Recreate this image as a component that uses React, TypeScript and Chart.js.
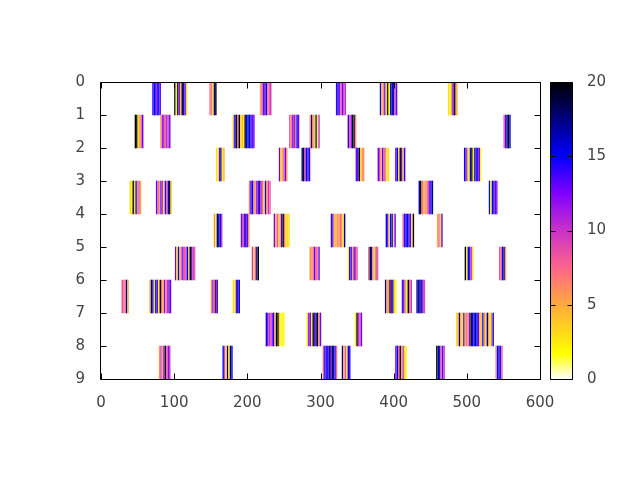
import React, { useEffect, useRef } from "react";
import { Chart, registerables } from "chart.js";

Chart.register(...registerables);

type Burst = [number, number[]];

const cellWidth = 2;
const row0: Burst[] = [
  [70, [14, 15, 14, 13, 15, 13]],
  [100, [20, 2, 18, 12, 4, 20, 15, 13, 3]],
  [148, [7, 7, 3, 17, 20]],
  [217, [5, 8, 13, 13, 15, 7, 8, 10]],
  [321, [14, 15, 12, 8, 13, 10, 10]],
  [381, [15, 5, 6, 13, 3, 20, 2, 15, 18, 15, 9, 13]],
  [474, [3, 2, 5, 12, 20, 10, 3]],
];
const row1: Burst[] = [
  [46, [20, 20, 3, 5, 8, 13]],
  [81, [6, 11, 12, 7, 12, 8, 13]],
  [180, [5, 15, 20, 8, 20, 3, 5, 2, 20, 15, 17, 15, 14, 13, 13]],
  [257, [8, 7, 11, 13, 7, 15, 13]],
  [285, [6, 17, 6, 3, 17, 2, 10]],
  [337, [14, 8, 12, 20, 18, 6]],
  [550, [8, 13, 17, 20, 15]],
];
const row2: Burst[] = [
  [157, [3, 2, 13, 17, 2, 5]],
  [243, [13, 4, 5, 8, 13, 6]],
  [274, [17, 20, 10, 15, 14, 14]],
  [348, [13, 14, 20, 3, 6, 6]],
  [378, [13, 10, 5, 13, 9, 6, 3, 3]],
  [402, [13, 15, 3, 20, 13, 5, 14]],
  [496, [15, 13, 5, 3, 15, 20, 2, 17, 13, 15, 13, 2]],
];
const row3: Burst[] = [
  [39, [3, 2, 20, 3, 15, 6, 9, 5]],
  [75, [13, 9, 5, 13, 10, 3, 14, 8, 15, 20, 3]],
  [202, [7, 14, 15, 8, 5, 12, 13, 17, 10, 7, 4, 15, 6, 10, 8]],
  [434, [17, 20, 8, 4, 6, 5, 10, 12, 15, 17]],
  [530, [15, 2, 15, 14, 13, 12]],
];
const row4: Burst[] = [
  [154, [6, 2, 17, 17, 15, 10]],
  [191, [13, 10, 13, 17, 13, 6]],
  [236, [13, 5, 8, 4, 6, 14, 20, 7, 3, 3, 3]],
  [314, [14, 13, 4, 5, 6, 5, 8, 6, 3, 17]],
  [389, [15, 13, 3, 15, 14, 3, 13]],
  [412, [8, 14, 15, 15, 14, 13, 3, 20]],
  [459, [5, 8, 3, 13]],
];
const row5: Burst[] = [
  [101, [13, 3, 15, 5, 8, 13, 8, 9, 15, 4, 20, 13, 10, 8]],
  [206, [10, 3, 8, 17, 20]],
  [285, [6, 5, 8, 13, 9, 6, 13]],
  [337, [2, 15, 13, 5, 13, 10, 8]],
  [365, [8, 20, 15, 5, 3, 10, 8]],
  [497, [20, 2, 15, 14, 10, 3]],
  [544, [9, 8, 15, 17, 5]],
];
const row6: Burst[] = [
  [28, [9, 6, 8, 17, 5]],
  [66, [5, 18, 15, 3, 17, 13, 2, 20, 8, 5, 12, 7, 10, 13, 13]],
  [150, [6, 12, 8, 20, 13]],
  [180, [3, 2, 13, 17, 15]],
  [388, [17, 6, 5, 20, 13, 17, 3, 2]],
  [411, [13, 14, 5, 3, 20, 8, 10]],
  [431, [17, 15, 20, 14, 13, 9]],
];
const row7: Burst[] = [
  [225, [15, 13, 10, 8, 12, 15, 5, 20, 20, 3, 2, 2, 2]],
  [281, [3, 12, 13, 2, 20, 13, 17, 20, 6, 13]],
  [347, [2, 20, 10, 9, 13]],
  [485, [3, 5, 17, 5, 3, 14, 5, 8, 6, 13, 20, 15, 15, 17, 15, 13, 5, 4, 15, 6, 3, 17, 6, 2, 7, 15]],
];
const row8: Burst[] = [
  [79, [6, 10, 5, 12, 20, 8, 12, 10]],
  [166, [15, 9, 3, 17, 3, 18, 15]],
  [303, [8, 15, 13, 15, 17, 13, 20, 15, 14, 7]],
  [329, [17, 5, 8, 3, 15, 14]],
  [402, [12, 15, 8, 20, 5, 10, 3, 2]],
  [458, [20, 17, 15, 8, 13, 10]],
  [539, [6, 15, 15, 14, 8]],
];
const rows: Burst[][] = [row0, row1, row2, row3, row4, row5, row6, row7, row8];

const paletteStops = [0, 1.7, 5, 7.5, 10, 12.5, 15, 20];
const paletteColors = [
  [255, 255, 255],
  [255, 255, 0],
  [255, 170, 60],
  [255, 100, 140],
  [200, 50, 200],
  [128, 0, 255],
  [0, 0, 255],
  [0, 0, 0],
];

function colorFor(v: number): string {
  let i = 0;
  while (i < paletteStops.length - 2 && v > paletteStops[i + 1]) i++;
  const t = (v - paletteStops[i]) / (paletteStops[i + 1] - paletteStops[i]);
  const a = paletteColors[i];
  const b = paletteColors[i + 1];
  const c = a.map((x, k) => Math.round(x + (b[k] - x) * t));
  return `rgb(${c[0]},${c[1]},${c[2]})`;
}

const points: { x: number; y: [number, number] }[] = [];
const colors: string[] = [];
rows.forEach((bursts, r) => {
  bursts.forEach(([start, values]) => {
    values.forEach((v, i) => {
      points.push({ x: start + cellWidth * i + cellWidth / 2, y: [r, r + 1] });
      colors.push(colorFor(v));
    });
  });
});

const framePlugin = {
  id: "frame",
  afterDraw(chart: any) {
    const { ctx, chartArea: a, scales } = chart;
    const L = Math.round(a.left) - 0.5;
    const R = Math.round(a.right) + 0.5;
    const T = Math.round(a.top) + 0.5;
    const B = Math.round(a.bottom) + 0.5;
    const cb = scales.cb;
    const cbL = 550.5;
    const cbR = 572.5;
    ctx.save();
    const g = ctx.createLinearGradient(0, cb.getPixelForValue(0), 0, cb.getPixelForValue(20));
    paletteStops.forEach((s) => g.addColorStop(s / 20, colorFor(s)));
    ctx.fillStyle = g;
    ctx.fillRect(cbL, T, cbR - cbL, B - T);
    ctx.strokeStyle = "#000";
    ctx.lineWidth = 1;
    ctx.beginPath();
    ctx.rect(L, T, R - L, B - T);
    ctx.rect(cbL, T, cbR - cbL, B - T);
    scales.x.ticks.forEach((t: any) => {
      const x = Math.round(scales.x.getPixelForValue(t.value)) + 0.5;
      ctx.moveTo(x, T); ctx.lineTo(x, T + 6);
      ctx.moveTo(x, B); ctx.lineTo(x, B - 6);
    });
    scales.y.ticks.forEach((t: any) => {
      const y = Math.round(scales.y.getPixelForValue(t.value)) + 0.5;
      ctx.moveTo(L, y); ctx.lineTo(L + 6, y);
      ctx.moveTo(R, y); ctx.lineTo(R - 6, y);
    });
    cb.ticks.forEach((t: any) => {
      const y = Math.round(cb.getPixelForValue(t.value)) + 0.5;
      ctx.moveTo(cbL, y); ctx.lineTo(cbL + 5, y);
      ctx.moveTo(cbR, y); ctx.lineTo(cbR - 5, y);
    });
    ctx.stroke();
    ctx.restore();
  },
};

const tickFont = { family: "'DejaVu Sans'", size: 15 };
const tickColor = "#444";

export default function App() {
  const ref = useRef<HTMLCanvasElement>(null);
  useEffect(() => {
    const chart = new Chart(ref.current!, {
      type: "bar",
      data: {
        datasets: [
          {
            data: points as any,
            backgroundColor: colors,
            barPercentage: 1,
            categoryPercentage: 1,
            grouped: false,
            borderWidth: 0,
          },
        ],
      },
      options: {
        responsive: false,
        animation: false,
        layout: { padding: { top: 82, left: 0, right: 0, bottom: 0 } },
        plugins: { legend: { display: false }, tooltip: { enabled: false }, title: { display: false } },
        scales: {
          x: {
            type: "linear",
            offset: false,
            min: 0,
            max: 600,
            position: "bottom",
            grid: { display: false, drawTicks: false },
            border: { display: false },
            ticks: { stepSize: 100, font: tickFont, color: tickColor, padding: 15, maxRotation: 0 },
            afterFit: (s: any) => { s.height = 101; },
          },
          y: {
            type: "linear",
            reverse: true,
            min: 0,
            max: 9,
            grid: { display: false, drawTicks: false },
            border: { display: false },
            ticks: { stepSize: 1, font: tickFont, color: tickColor, padding: 16 },
            afterFit: (s: any) => { s.width = 101; },
          },
          cb: {
            type: "linear",
            position: "right",
            min: 0,
            max: 20,
            grid: { display: false, drawTicks: false, drawOnChartArea: false },
            border: { display: false },
            ticks: { stepSize: 5, font: tickFont, color: tickColor, padding: 47 },
            afterFit: (s: any) => { s.width = 100; },
          },
        },
      },
      plugins: [framePlugin],
    });
    return () => chart.destroy();
  }, []);
  return (
    <canvas
      ref={ref}
      width={640}
      height={480}
      style={{ position: "fixed", left: 0, top: 0, width: 640, height: 480, background: "#fff" }}
    />
  );
}
